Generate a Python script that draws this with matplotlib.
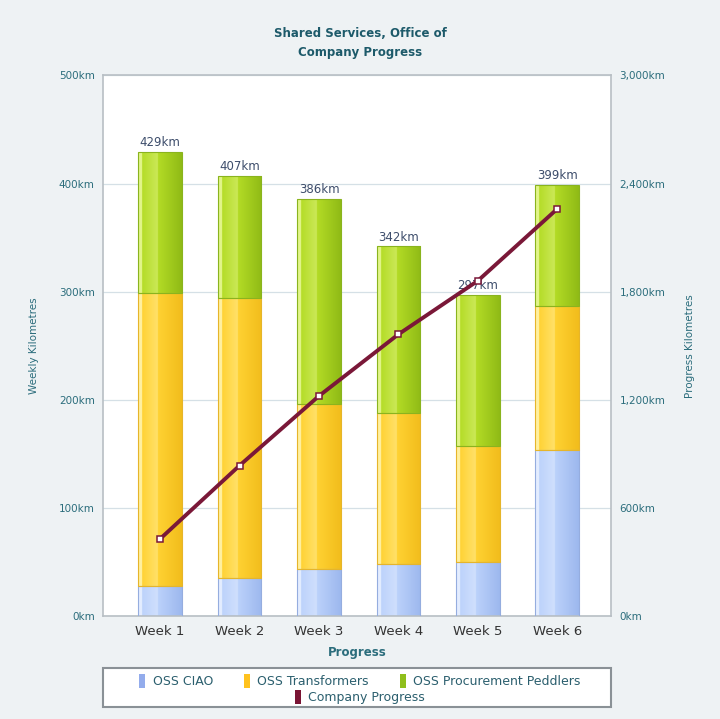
import matplotlib
matplotlib.use("Agg")
import matplotlib.pyplot as plt
from matplotlib.patches import Rectangle, Patch
from matplotlib.colors import to_rgb
from matplotlib.ticker import FuncFormatter
import numpy as np

weeks = ["Week 1", "Week 2", "Week 3", "Week 4", "Week 5", "Week 6"]
ciao = [28, 35, 44, 48, 50, 154]
transformers = [271, 259, 152, 140, 107, 133]
procurement = [130, 113, 190, 154, 140, 112]
totals = [429, 407, 386, 342, 297, 399]
progress = [429, 836, 1222, 1564, 1861, 2260]

teal = "#2b6d7c"
bg = "#eef2f4"


def shade(ax, bars, edge, mid, light):
    # cylinder-ish horizontal gradient clipped to each bar
    t = np.linspace(0, 1, 64)
    e, m, l = (np.array(to_rgb(c)) for c in (edge, mid, light))
    cols = np.empty((1, 64, 3))
    for i, v in enumerate(t):
        if v < 0.08:
            cols[0, i] = l
        elif v < 0.45:
            k = (v - 0.08) / 0.37
            cols[0, i] = m * (1 - k) + l * k * 0.5 + m * k * 0.5
        else:
            k = (v - 0.45) / 0.55
            cols[0, i] = m * (1 - k) + e * k
    for r in bars:
        x0, y0 = r.get_x(), r.get_y()
        im = ax.imshow(cols, extent=(x0, x0 + r.get_width(), y0, y0 + r.get_height()),
                       aspect="auto", zorder=2.5, interpolation="bilinear")
        im.set_clip_path(r)
        r.set_facecolor("none")
        r.set_zorder(3)


fig = plt.figure(figsize=(7.2, 7.19), dpi=100, facecolor=bg)
ax = fig.add_axes([0.143, 0.143, 0.706, 0.752])
ax.set_facecolor("white")

x = np.arange(len(weeks))
w = 0.55
b1 = ax.bar(x, ciao, w, color="#b3cbf7", edgecolor="#95addf", linewidth=0.8, zorder=2)
b2 = ax.bar(x, transformers, w, bottom=ciao, color="#ffd43a",
            edgecolor="#e6b52a", linewidth=0.8, zorder=2)
bottom3 = [a + b for a, b in zip(ciao, transformers)]
b3 = ax.bar(x, procurement, w, bottom=bottom3, color="#a9d42a",
            edgecolor="#8ab41e", linewidth=0.8, zorder=2)
shade(ax, b1, "#9db8ee", "#bcd2fb", "#e4edff")
shade(ax, b2, "#f2bd1c", "#ffd233", "#fff0a0")
shade(ax, b3, "#90bb16", "#b4dc26", "#e2f58a")
ax.bar_label(b3, labels=[f"{t}km" for t in totals], padding=2,
             fontsize=8.5, color="#3d4d6b")

ax.set_xlim(-0.72, 5.68)
ax.set_ylim(0, 500)
ax.set_yticks(range(0, 501, 100))
ax.yaxis.set_major_formatter(FuncFormatter(lambda v, p: f"{int(v)}km"))
ax.set_xticks(x)
ax.set_xticklabels(weeks, fontsize=9.5, color="#333333")
ax.tick_params(axis="y", length=0, pad=6, labelsize=7.5, labelcolor=teal)
ax.tick_params(axis="x", length=0, pad=6)
ax.grid(axis="y", color="#d5e0e6", linewidth=0.9, zorder=0)
ax.set_axisbelow(True)
for s in ax.spines.values():
    s.set_color("#b8bfc4")
    s.set_linewidth(1.2)

ax.set_ylabel("Weekly Kilometres", fontsize=7.5, color=teal, labelpad=14)
ax.set_xlabel("Progress", fontsize=8.5, color=teal, fontweight="bold", labelpad=6)

ax2 = ax.twinx()
ax2.set_ylim(0, 3000)
ax2.set_yticks(range(0, 3001, 600))
ax2.yaxis.set_major_formatter(FuncFormatter(lambda v, p: f"{int(v):,}km"))
ax2.tick_params(axis="y", length=0, pad=6, labelsize=7.5, labelcolor=teal)
ax2.plot(x, progress, color="#7a1838", linewidth=2.8, marker="s", markersize=4.5,
         markerfacecolor="white", markeredgecolor="#7a1838", markeredgewidth=1.1,
         zorder=5)
ax2.set_ylabel("Progress Kilometres", fontsize=7.5, color=teal, labelpad=14,
               rotation=90)
for s in ax2.spines.values():
    s.set_visible(False)

fig.text(0.5, 0.954, "Shared Services, Office of", ha="center", va="center",
         fontsize=8.5, fontweight="bold", color="#1d5a6a")
fig.text(0.5, 0.927, "Company Progress", ha="center", va="center",
         fontsize=8.5, fontweight="bold", color="#1d5a6a")

# legend box
fig.patches.append(Rectangle((0.143, 0.017), 0.706, 0.054, transform=fig.transFigure,
                             facecolor="white", edgecolor="#8a9196", linewidth=1.5))
h1 = [Patch(facecolor="#93acec", label="OSS CIAO"),
      Patch(facecolor="#ffc21e", label="OSS Transformers"),
      Patch(facecolor="#8fbf1c", label="OSS Procurement Peddlers")]
h2 = [Patch(facecolor="#7a1434", label="Company Progress")]
kw = dict(frameon=False, handlelength=0.45, handleheight=1.3, handletextpad=0.6,
          fontsize=9, labelcolor="#2b5f6e")
fig.legend(handles=h1, ncol=3, loc="center", bbox_to_anchor=(0.5, 0.053),
           columnspacing=2.5, **kw)
fig.legend(handles=h2, ncol=1, loc="center", bbox_to_anchor=(0.5, 0.030), **kw)

fig.savefig("out.png", dpi=100, facecolor=bg)
